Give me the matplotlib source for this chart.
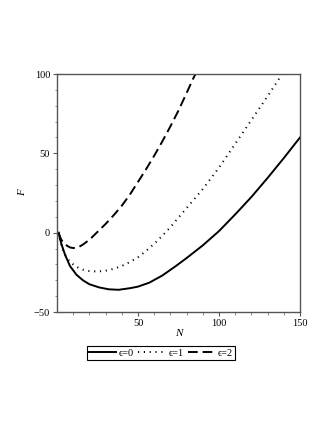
import matplotlib.pyplot as plt
import numpy as np

# values
n_eps0 = [1, 2, 3, 5, 8, 12, 16, 20, 26, 32, 38, 45, 50, 57, 65, 73, 80, 90, 100, 110, 120, 130, 140, 150]
f_eps0 = [0, -4.5, -8, -14, -21, -26.5, -30, -32.5, -34.5, -35.7, -36, -35, -34, -31.5, -27, -21.3, -16, -8, 1, 11.5, 22.5, 34.5, 47, 60]

n_eps1 = [1, 2, 3, 5, 8, 12, 16, 20, 25, 30, 35, 40, 45, 50, 55, 60, 65, 70, 75, 80, 90, 100, 110, 120, 130, 139]
f_eps1 = [0, -5, -9, -14, -18.5, -21.5, -23.3, -24.2, -24.5, -24, -22.8, -21, -18.5, -15.5, -11.5, -7, -2, 3.5, 9.5, 15.5, 27.5, 41, 56, 71, 86, 100]

n_eps2 = [1, 2, 3, 5, 8, 10, 13, 16, 20, 25, 30, 35, 40, 45, 50, 55, 60, 65, 70, 75, 80, 84, 85.5]
f_eps2 = [0, -3, -5, -7.5, -9.3, -9.7, -9.3, -7.5, -4.5, 0.5, 5.5, 11, 17, 24, 32, 40, 48.5, 57.5, 67, 77, 88, 97, 100]

labels = ['ϵ=0', 'ϵ=1', 'ϵ=2']

plt.rcParams['font.family'] = ['Liberation Serif', 'DejaVu Serif']

fig = plt.figure(figsize=(3.32, 4.30), dpi=100)
ax = fig.add_axes([0.1717, 0.2744, 0.7319, 0.5535])

ax.plot(n_eps0, f_eps0, color='black', lw=1.4, label=labels[0])
ax.plot(n_eps1, f_eps1, color='black', lw=1.4, linestyle=(0, (0.6, 2.4)), label=labels[1])
ax.plot(n_eps2, f_eps2, color='black', lw=1.4, linestyle=(0, (5, 2.5)), label=labels[2])

ax.set_xlim(0, 150)
ax.set_ylim(-50, 100)
ax.set_xticks([50, 100, 150])
ax.set_yticks([-50, 0, 50, 100])
ax.set_xticks(np.arange(10, 150, 10), minor=True)
ax.set_yticks(np.arange(-40, 100, 10), minor=True)
ax.set_yticklabels(['−50', '0', '50', '100'])
ax.tick_params(which='major', length=3, width=0.8, labelsize=7.5, pad=2, color='#555555')
ax.tick_params(which='minor', length=1.8, width=0.6, color='#777777')
for s in ax.spines.values():
    s.set_color('#555555')
    s.set_linewidth(1.0)

ax.set_xlabel('N', fontsize=8, style='italic', labelpad=1)
ax.set_ylabel('F', fontsize=8, style='italic', labelpad=5)

leg = fig.legend(loc='center', bbox_to_anchor=(0.485, 0.179), ncol=3, fontsize=7.5,
                 handlelength=2.6, handletextpad=0.3, columnspacing=0.4,
                 borderpad=0.2, fancybox=False, framealpha=1, edgecolor='black')
leg.get_frame().set_linewidth(0.8)

fig.savefig('out.png', dpi=100)
